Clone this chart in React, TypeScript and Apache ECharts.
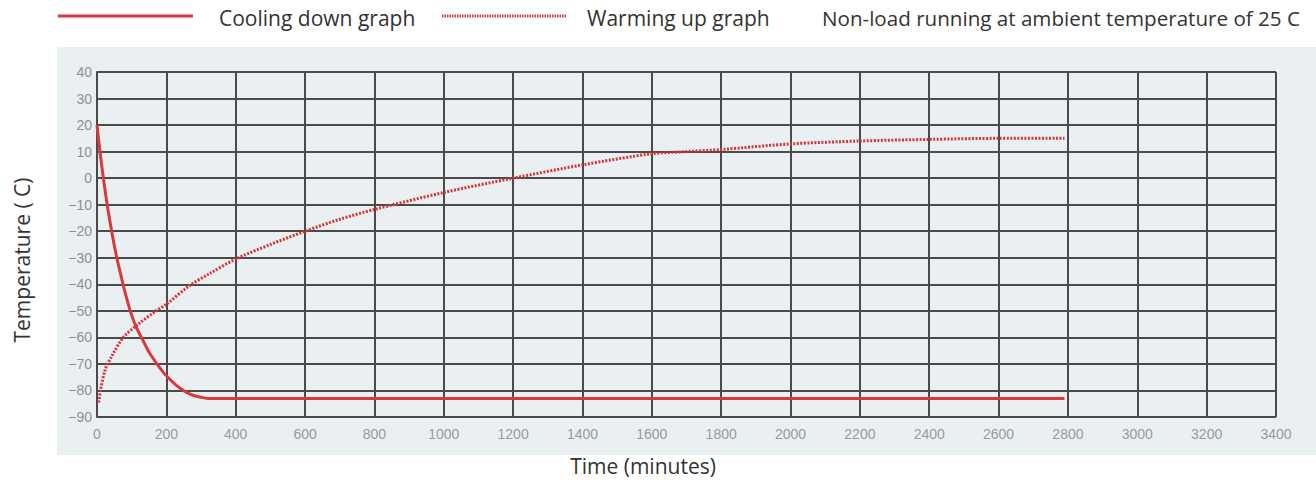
import React, { useEffect, useRef } from "react";
import * as echarts from "echarts";

// Cooling down graph (solid)
const coolTime = [0, 10, 20, 30, 45, 57, 66, 75, 85, 96, 111, 128, 150, 173, 190, 208, 228, 249, 270, 290, 305, 320, 340, 1000, 2000, 2790];
const coolTemp = [20, 8.5, -1.5, -10.5, -22, -30, -35, -40, -45, -50, -55.5, -60, -65.5, -70, -73, -75.5, -78, -80, -81.5, -82.3, -82.7, -83, -83, -83, -83, -83];

// Warming up graph (dotted)
const warmTime = [5, 10, 24, 43, 76, 119, 171, 200, 267, 324, 400, 500, 600, 700, 800, 1000, 1200, 1400, 1600, 1700, 1800, 2000, 2200, 2400, 2600, 2790];
const warmTemp = [-84.5, -80, -72, -67, -60, -55, -50, -47.5, -40.5, -36, -30.5, -25, -20, -15.5, -11.8, -5.4, 0, 5, 9.2, 10, 10.8, 12.9, 14, 14.6, 15, 15];

const legendCooling = "Cooling down graph";
const legendWarming = "Warming up graph";
const noteText = "Non-load running at ambient temperature of 25 C";
const xTitle = "Time (minutes)";
const yTitle = "Temperature ( C)";

const RED = "#d9393c";
const GRID = "#4a4a4a";
const TEXT_FONT = "'Open Sans', sans-serif";
const TICK_FONT = "'Liberation Sans', Arial, sans-serif";

export default function App() {
  const ref = useRef<HTMLDivElement>(null);
  useEffect(() => {
    if (!ref.current) return;
    const chart = echarts.init(ref.current, null, { renderer: "svg" });
    const gridLine = { show: true, lineStyle: { color: GRID, width: 2 } };
    const textStyle = (text: string, extra: object = {}) => ({
      text,
      fill: "#333",
      fontSize: 21,
      fontFamily: TEXT_FONT,
      textVerticalAlign: "middle",
      ...extra,
    });
    chart.setOption({
      animation: false,
      backgroundColor: "#ffffff",
      grid: { left: 97, right: 40, top: 72, bottom: 65, containLabel: false },
      xAxis: {
        type: "value",
        min: 0,
        max: 3400,
        interval: 200,
        axisLine: gridLine,
        axisTick: { show: false },
        splitLine: gridLine,
        axisLabel: {
          color: "#9a9a9a",
          fontSize: 14,
          fontFamily: TICK_FONT,
          margin: 10,
          formatter: (v: number) => String(v),
        },
      },
      yAxis: {
        type: "value",
        min: -90,
        max: 40,
        interval: 10,
        axisLine: gridLine,
        axisTick: { show: false },
        splitLine: gridLine,
        axisLabel: {
          color: "#8f8f8f",
          fontSize: 14,
          fontFamily: TICK_FONT,
          margin: 5,
          formatter: (v: number) => String(v).replace("-", "\u2212"),
        },
      },
      graphic: [
        {
          type: "rect",
          z: -10,
          shape: { x: 57, y: 47, width: 1259, height: 408 },
          style: { fill: "#eaf0f2" },
          silent: true,
        },
        {
          type: "line",
          shape: { x1: 58, y1: 16, x2: 193, y2: 16 },
          style: { stroke: RED, lineWidth: 3 },
        },
        { type: "text", x: 219, y: 18, style: textStyle(legendCooling) },
        {
          type: "line",
          shape: { x1: 442, y1: 16, x2: 567, y2: 16 },
          style: { stroke: RED, lineWidth: 3, lineDash: [1.5, 1] },
        },
        { type: "text", x: 587, y: 18, style: textStyle(legendWarming) },
        { type: "text", x: 822, y: 18, style: textStyle(noteText, { fontSize: 20.6 }) },
        { type: "text", x: 643, y: 466, style: textStyle(xTitle, { textAlign: "center" }) },
        {
          type: "text",
          x: 22,
          y: 260,
          rotation: Math.PI / 2,
          style: textStyle(yTitle, { textAlign: "center" }),
        },
      ],
      series: [
        {
          name: legendCooling,
          type: "line",
          smooth: 0.3,
          showSymbol: false,
          data: coolTime.map((t, i) => [t, coolTemp[i]]),
          lineStyle: { color: RED, width: 3 },
          z: 3,
        },
        {
          name: legendWarming,
          type: "line",
          smooth: 0.3,
          showSymbol: false,
          data: warmTime.map((t, i) => [t, warmTemp[i]]),
          lineStyle: { color: "#d2353a", width: 3, type: [2, 1.5] },
          z: 3,
        },
      ],
    });
    return () => chart.dispose();
  }, []);
  return <div ref={ref} style={{ position: "fixed", left: 0, top: 0, width: 1316, height: 482 }} />;
}
